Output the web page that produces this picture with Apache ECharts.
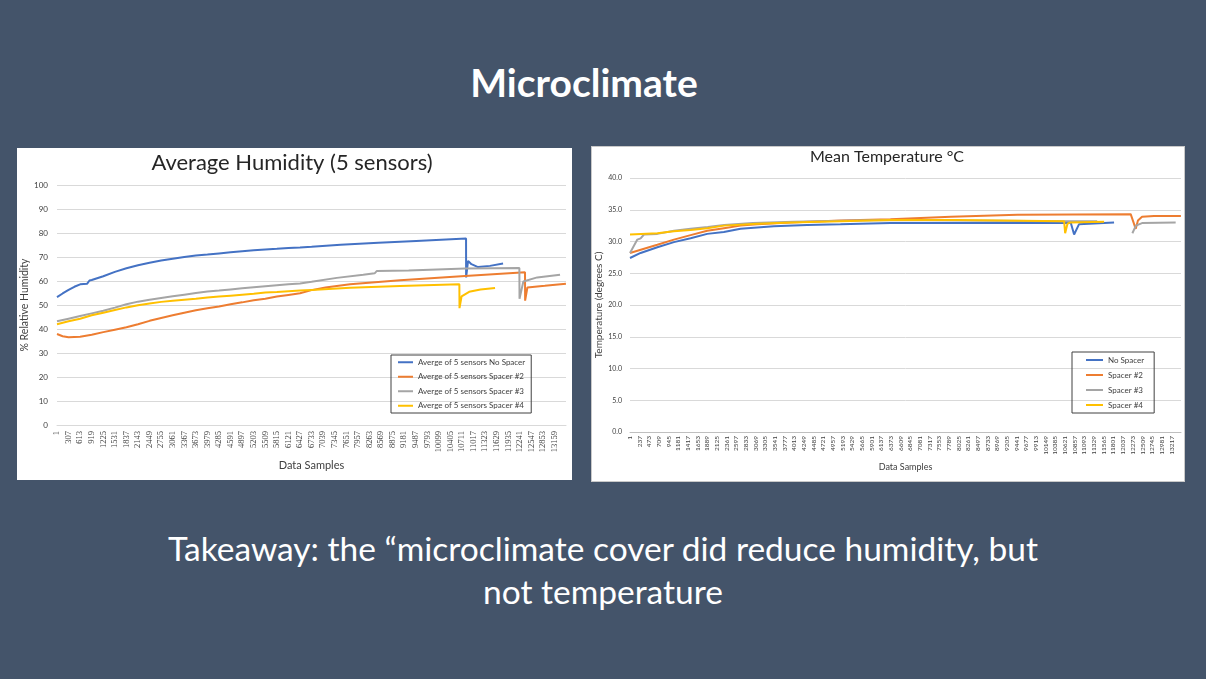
<!DOCTYPE html>
<html>
<head>
<meta charset="utf-8">
<script src="https://cdn.jsdelivr.net/npm/echarts@6/dist/echarts.min.js"></script>
<style>
  body { margin: 0; }
  #slide { position: relative; width: 1206px; height: 679px; background: #44546A; overflow: hidden; font-family: Lato, "Open Sans", sans-serif; }
  .panel { position: absolute; background: #fff; }
  #heading { position: absolute; left: 0; top: 60px; width: 1168px; text-align: center; color: #fff; font-weight: bold; font-size: 39px; line-height: 44px; }
  #takeaway { position: absolute; left: 0; top: 527px; width: 1206px; text-align: center; color: #fff; font-size: 33.5px; line-height: 43px; }
  #chart { position: absolute; left: 0; top: 0; width: 1206px; height: 679px; }
</style>
</head>
<body>
<div id="slide">
  <div class="panel" style="left:17px;top:148px;width:555px;height:332px;"></div>
  <div class="panel" style="left:591px;top:146px;width:594px;height:336px;border:1px solid #c9c9c9;box-sizing:border-box;"></div>
  <div id="heading">Microclimate</div>
  <div id="takeaway">Takeaway: the “microclimate cover did reduce humidity, but<br>not temperature</div>
  <div id="chart"></div>
</div>
<script>
// ---- humidity (left chart), sample number + % RH ----
var humNoSpacerX = [1, 150, 307, 460, 613, 800, 860, 919, 1225, 1531, 1837, 2143, 2449, 2755, 3061, 3367, 3673, 3979, 4285, 4591, 4897, 5203, 5509, 5815, 6121, 6427, 6733, 7500, 8500, 9500, 10818, 10820, 10871, 10960, 11135, 11450, 11797];
var humNoSpacerY = [53.3, 54.8, 56.3, 57.6, 58.6, 58.9, 60.2, 60.4, 62.0, 63.8, 65.3, 66.6, 67.6, 68.5, 69.3, 70.0, 70.6, 71.0, 71.5, 72.0, 72.4, 72.8, 73.1, 73.4, 73.8, 74.0, 74.3, 75.1, 75.9, 76.7, 77.7, 61.5, 68.4, 67.0, 65.8, 66.3, 67.3];

var humSpacer2X = [1, 150, 307, 613, 919, 1225, 1531, 1837, 2143, 2449, 2755, 3061, 3367, 3673, 3979, 4285, 4591, 4897, 5203, 5509, 5815, 6121, 6427, 6733, 7100, 7750, 9072, 10791, 12377, 12380, 12440, 12900, 13459];
var humSpacer2Y = [37.9, 37.0, 36.6, 36.8, 37.6, 38.7, 39.7, 40.7, 42.0, 43.4, 44.6, 45.7, 46.8, 47.8, 48.6, 49.4, 50.3, 51.1, 52.0, 52.6, 53.5, 54.2, 54.9, 56.2, 57.3, 58.6, 60.3, 62.1, 63.6, 51.8, 57.3, 58.0, 58.9];

var humSpacer3X = [1, 307, 613, 919, 1225, 1531, 1837, 2143, 2449, 2755, 3061, 3367, 3673, 3979, 4285, 4591, 4897, 5203, 5509, 5815, 6121, 6427, 6733, 7400, 8100, 8400, 8460, 9300, 10800, 12228, 12232, 12333, 12700, 13304];
var humSpacer3Y = [43.2, 44.3, 45.4, 46.5, 47.6, 48.9, 50.3, 51.4, 52.2, 52.9, 53.6, 54.3, 55.0, 55.6, 56.0, 56.5, 57.0, 57.4, 57.8, 58.2, 58.6, 59.0, 59.7, 61.3, 62.6, 63.2, 64.2, 64.4, 65.2, 65.4, 52.6, 59.8, 61.5, 62.6];

var humSpacer4X = [1, 307, 613, 919, 1225, 1531, 1837, 2143, 2449, 2755, 3061, 3367, 3673, 3979, 4285, 4591, 4897, 5203, 5509, 5815, 6121, 6427, 6733, 7750, 9072, 10641, 10645, 10700, 10900, 11200, 11585];
var humSpacer4Y = [42.0, 43.2, 44.3, 45.7, 46.8, 47.9, 49.0, 49.9, 50.6, 51.3, 51.8, 52.2, 52.6, 53.1, 53.5, 53.9, 54.3, 54.7, 55.2, 55.4, 55.7, 56.0, 56.3, 57.2, 57.9, 58.6, 48.7, 53.6, 55.5, 56.5, 57.1];

// ---- temperature (right chart), sample number + degrees C ----
var tempNoSpacerX = [1, 260, 668, 1073, 1480, 1886, 2293, 2699, 3106, 3512, 4325, 5138, 6358, 8000, 10598, 10762, 10842, 10960, 11817];
var tempNoSpacerY = [27.4, 28.2, 29.1, 29.9, 30.5, 31.2, 31.5, 32.0, 32.2, 32.4, 32.6, 32.7, 32.9, 32.9, 32.9, 32.9, 31.1, 32.7, 33.0];

var tempSpacer2X = [1, 668, 1073, 1480, 1886, 2293, 2699, 3106, 3919, 5138, 6358, 7835, 9460, 12223, 12346, 12400, 12500, 12793, 13449];
var tempSpacer2Y = [28.2, 29.5, 30.3, 31.0, 31.7, 32.1, 32.5, 32.7, 33.0, 33.3, 33.5, 33.9, 34.2, 34.3, 32.0, 33.3, 33.9, 34.0, 34.0];

var tempSpacer3X = [1, 180, 261, 342, 668, 1073, 1480, 1900, 2300, 3000, 4000, 5500, 6400, 8000, 10598, 11405, 11406, 12264, 12350, 12500, 13321];
var tempSpacer3Y = [28.2, 30.3, 30.5, 31.1, 31.2, 31.7, 32.0, 32.3, 32.6, 32.9, 33.1, 33.3, 33.4, 33.3, 33.2, 33.2, null, 31.3, 32.5, 32.9, 33.0];

var tempSpacer4X = [1, 668, 1073, 1480, 1886, 2293, 3106, 3919, 5138, 6358, 8000, 10598, 10623, 10680, 10750, 11575];
var tempSpacer4Y = [31.1, 31.3, 31.6, 31.8, 32.1, 32.5, 32.8, 33.0, 33.2, 33.4, 33.4, 33.2, 31.3, 32.8, 33.0, 33.1];

var humTickStep = 306;
var tempTickStep = 236;

var blue = '#4472C4', orange = '#ED7D31', gray = '#A5A5A5', yellow = '#FFC000';

// x axis runs from 0, label shows sample number (value + 1)
function pairs(xs, ys) {
    return xs.map(function (s, i) {
        return [s - 1, ys[i] === null ? '-' : ys[i]];
    });
}

function line(name, xs, ys, color, idx) {
    return {
        name: name,
        type: 'line',
        xAxisIndex: idx,
        yAxisIndex: idx,
        data: pairs(xs, ys),
        showSymbol: false,
        symbol: 'none',
        connectNulls: false,
        lineStyle: {color: color, width: 2},
        itemStyle: {color: color}
    };
}

var font = 'Lato, "Open Sans", sans-serif';
var chart = echarts.init(document.getElementById('chart'));

var option = {
    animation: false,
    backgroundColor: 'transparent',
    textStyle: {fontFamily: font},
    title: [
        {text: 'Average Humidity (5 sensors)', left: 292, top: 152, textAlign: 'center', padding: 0,
         textStyle: {fontSize: 22, fontWeight: 'normal', color: '#262626', fontFamily: font}},
        {text: 'Mean Temperature °C', left: 887, top: 149, textAlign: 'center', padding: 0,
         textStyle: {fontSize: 16, fontWeight: 'normal', color: '#262626', fontFamily: font}}
    ],
    legend: [
        {
            data: ['Averge of 5 sensors No Spacer', 'Averge of 5 sensors Spacer #2', 'Averge of 5 sensors Spacer #3', 'Averge of 5 sensors Spacer #4'],
            orient: 'vertical', left: 391, top: 355,
            borderColor: '#404040', borderWidth: 1, padding: [2, 6, 2, 7],
            icon: 'rect', itemWidth: 15, itemHeight: 2, itemGap: 4,
            textStyle: {fontSize: 8, lineHeight: 10.5, color: '#404040', fontFamily: font}
        },
        {
            data: ['No Spacer', 'Spacer #2', 'Spacer #3', 'Spacer #4'],
            orient: 'vertical', left: 1072, top: 352,
            borderColor: '#404040', borderWidth: 1, padding: [3, 10, 3, 14],
            icon: 'rect', itemWidth: 17, itemHeight: 2, itemGap: 5,
            textStyle: {fontSize: 8, lineHeight: 10, color: '#404040', fontFamily: font}
        }
    ],
    grid: [
        {left: 57, right: 640, top: 185, bottom: 254},
        {left: 630, right: 25, top: 178, bottom: 247}
    ],
    xAxis: [
        {
            type: 'value', gridIndex: 0, min: 0, max: 13460, interval: humTickStep,
            name: 'Data Samples', nameLocation: 'middle', nameGap: 35,
            nameTextStyle: {fontSize: 11, color: '#404040', fontFamily: font},
            axisLine: {show: true, lineStyle: {color: '#d9d9d9'}},
            axisTick: {show: false},
            splitLine: {show: false},
            axisLabel: {rotate: 90, fontSize: 8.5, margin: 6, color: '#404040', showMaxLabel: false,
                        fontFamily: '"Liberation Serif", serif',
                        formatter: function (v) { return String(v + 1); }}
        },
        {
            type: 'value', gridIndex: 1, min: 0, max: 13450, interval: tempTickStep,
            name: 'Data Samples', nameLocation: 'middle', nameGap: 31,
            nameTextStyle: {fontSize: 9, color: '#404040', fontFamily: font},
            axisLine: {show: true, lineStyle: {color: '#bfbfbf'}},
            axisTick: {show: false},
            splitLine: {show: false},
            axisLabel: {rotate: 90, fontSize: 6.5, margin: 4, color: '#404040', showMaxLabel: false,
                        formatter: function (v) { return String(v + 1); }}
        }
    ],
    yAxis: [
        {
            type: 'value', gridIndex: 0, min: 0, max: 100, interval: 10,
            name: '% Relative Humidity', nameLocation: 'middle', nameGap: 26, nameRotate: 90,
            nameTextStyle: {fontSize: 10.5, color: '#404040', fontFamily: font},
            axisLine: {show: false}, axisTick: {show: false},
            splitLine: {lineStyle: {color: '#d9d9d9'}},
            axisLabel: {fontSize: 8, margin: 9, color: '#404040'}
        },
        {
            type: 'value', gridIndex: 1, min: 0, max: 40, interval: 5,
            name: 'Temperature (degrees C)', nameLocation: 'middle', nameGap: 26, nameRotate: 90,
            nameTextStyle: {fontSize: 10, color: '#404040', fontFamily: font},
            axisLine: {show: false}, axisTick: {show: false},
            splitLine: {lineStyle: {color: '#d9d9d9'}},
            axisLabel: {fontSize: 7, margin: 8, color: '#404040',
                        formatter: function (v) { return v.toFixed(1); }}
        }
    ],
    series: [
        line('Averge of 5 sensors No Spacer', humNoSpacerX, humNoSpacerY, blue, 0),
        line('Averge of 5 sensors Spacer #2', humSpacer2X, humSpacer2Y, orange, 0),
        line('Averge of 5 sensors Spacer #3', humSpacer3X, humSpacer3Y, gray, 0),
        line('Averge of 5 sensors Spacer #4', humSpacer4X, humSpacer4Y, yellow, 0),
        line('No Spacer', tempNoSpacerX, tempNoSpacerY, blue, 1),
        line('Spacer #2', tempSpacer2X, tempSpacer2Y, orange, 1),
        line('Spacer #3', tempSpacer3X, tempSpacer3Y, gray, 1),
        line('Spacer #4', tempSpacer4X, tempSpacer4Y, yellow, 1)
    ]
};

chart.setOption(option);
</script>
</body>
</html>
